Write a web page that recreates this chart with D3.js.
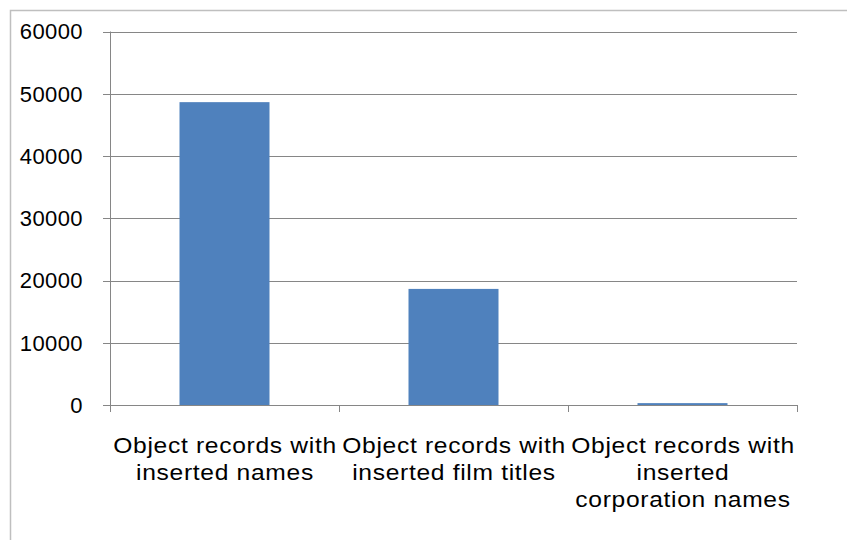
<!DOCTYPE html>
<html>
<head>
<meta charset="utf-8">
<script src="https://cdn.jsdelivr.net/npm/d3@7"></script>
<style>
  html, body { margin: 0; padding: 0; background: #fff; }
  svg { display: block; }
  text { font-family: Arial, "Liberation Sans", sans-serif; fill: #000; }
</style>
</head>
<body>
<svg id="chart" width="847" height="540"></svg>
<script>
// data
const categories = [
  ["Object records with", "inserted names"],
  ["Object records with", "inserted film titles"],
  ["Object records with", "inserted", "corporation names"]
];
const values = [48650, 18650, 300];
const yTicks = [0, 10000, 20000, 30000, 40000, 50000, 60000];

const W = 847, H = 540;
const plot = { left: 110, right: 797, top: 31.5, bottom: 405 };

const svg = d3.select("#chart");

// outer chart border (runs off the right and bottom edges)
svg.append("rect")
  .attr("x", 10.5).attr("y", 10.5)
  .attr("width", W + 20).attr("height", H + 20)
  .attr("fill", "none")
  .attr("stroke", "#bfbfbf")
  .attr("stroke-width", 1.5);

const x = d3.scaleBand()
  .domain(d3.range(categories.length))
  .range([plot.left, plot.right])
  .padding(0);

const y = d3.scaleLinear()
  .domain([0, 60000])
  .range([plot.bottom, plot.top]);

// gridlines
svg.append("g")
  .selectAll("line")
  .data(yTicks)
  .join("line")
  .attr("x1", plot.left - 7).attr("x2", plot.right)
  .attr("y1", d => Math.round(y(d)) + 0.5)
  .attr("y2", d => Math.round(y(d)) + 0.5)
  .attr("stroke", "#868686")
  .attr("stroke-width", 1);

// y axis line
svg.append("line")
  .attr("x1", plot.left + 0.5).attr("x2", plot.left + 0.5)
  .attr("y1", plot.top).attr("y2", plot.bottom + 7)
  .attr("stroke", "#868686");

// y tick labels
svg.append("g")
  .selectAll("text")
  .data(yTicks)
  .join("text")
  .attr("x", 83)
  .attr("y", d => y(d))
  .attr("dy", "0.36em")
  .attr("text-anchor", "end")
  .style("font-size", "22px")
  .style("letter-spacing", "0.4px")
  .text(d => d);

// bars
const barW = x.bandwidth() * 0.393;
svg.append("g")
  .selectAll("rect")
  .data(values)
  .join("rect")
  .attr("x", (d, i) => x(i) + (x.bandwidth() - barW) / 2)
  .attr("y", d => y(d))
  .attr("width", barW)
  .attr("height", d => y(0) - y(d))
  .attr("fill", "#4f81bd");

// x axis line & ticks at category boundaries
svg.append("line")
  .attr("x1", plot.left).attr("x2", plot.right)
  .attr("y1", Math.round(y(0)) + 0.5).attr("y2", Math.round(y(0)) + 0.5)
  .attr("stroke", "#868686");

const bounds = d3.range(categories.length + 1).map(i => plot.left + i * x.step());
svg.append("g")
  .selectAll("line")
  .data(bounds)
  .join("line")
  .attr("x1", d => Math.round(d) + 0.5).attr("x2", d => Math.round(d) + 0.5)
  .attr("y1", plot.bottom).attr("y2", plot.bottom + 7)
  .attr("stroke", "#868686");

// category labels (slightly wide, like the original rendering)
svg.append("g")
  .selectAll("text")
  .data(categories)
  .join("text")
  .attr("text-anchor", "middle")
  .attr("transform", (d, i) => `translate(${x(i) + x.bandwidth() / 2 + 0.5},0) scale(1.12,1)`)
  .style("font-size", "22px")
  .style("letter-spacing", "0.6px")
  .each(function(lines) {
    d3.select(this).selectAll("tspan")
      .data(lines)
      .join("tspan")
      .attr("x", 0)
      .attr("y", (l, k) => 453 + k * 27)
      .text(l => l);
  });
</script>
</body>
</html>
